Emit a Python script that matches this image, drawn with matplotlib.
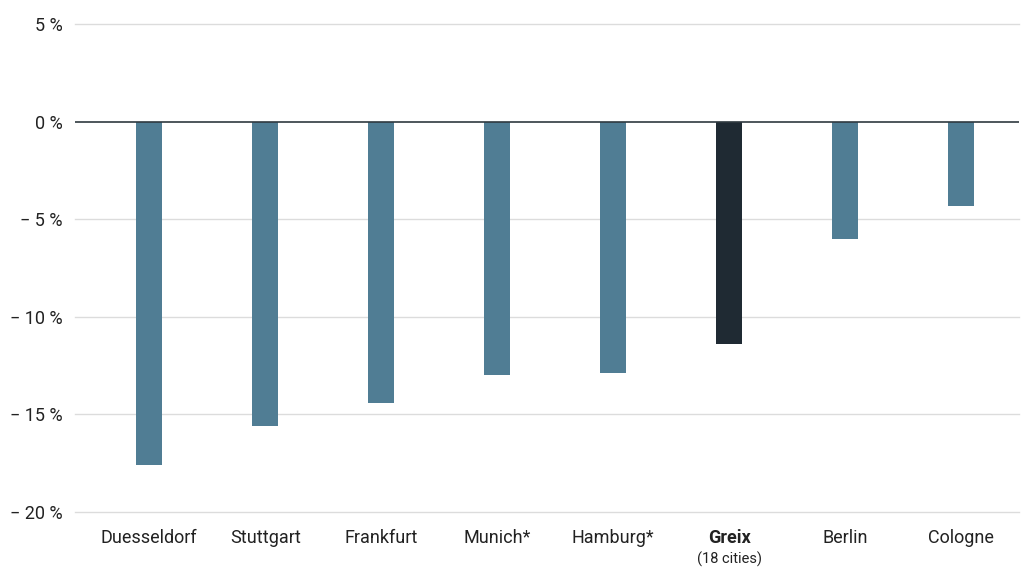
import matplotlib
matplotlib.use("Agg")
import matplotlib.pyplot as plt
from matplotlib.transforms import blended_transform_factory

plt.rcParams['font.family'] = ['Roboto', 'DejaVu Sans']

cities = ["Duesseldorf", "Stuttgart", "Frankfurt", "Munich*", "Hamburg*", "Greix", "Berlin", "Cologne"]
values = [-17.6, -15.6, -14.4, -13.0, -12.9, -11.4, -6.0, -4.3]
highlight = "Greix"
yticks = [5, 0, -5, -10, -15, -20]

bar_color = "#507d94"
hl_color = "#1f2a33"
text_color = "#222222"

fig = plt.figure(figsize=(10.23, 5.68), dpi=100)
ax = fig.add_axes([75/1023, 1-512/568, (1019-75)/1023, (512-24)/568])

x = list(range(len(cities)))
colors = [hl_color if c == highlight else bar_color for c in cities]
ax.bar(x, values, width=0.225, color=colors, zorder=3)

ax.set_ylim(-20, 5)
ax.set_xlim(-0.64, 7.498)
ax.set_yticks(yticks)
ax.set_yticklabels([("\u2212 " if v < 0 else "") + f"{abs(v)} %" for v in yticks])
for v in yticks:
    if v != 0:
        ax.axhline(v, color='#dcdcdc', linewidth=1, zorder=0, clip_on=False)
ax.axhline(0, color='#2f3940', linewidth=1.2, zorder=4)
for s in ax.spines.values():
    s.set_visible(False)
ax.tick_params(axis='y', length=0, pad=9, labelsize=13, labelcolor=text_color)
ax.tick_params(axis='x', length=0, pad=12, labelsize=13, labelcolor=text_color)
ax.set_xticks(x)
ax.set_xticklabels(cities)
for lbl in ax.get_xticklabels():
    if lbl.get_text() == highlight:
        lbl.set_fontweight('bold')

trans = blended_transform_factory(ax.transData, fig.transFigure)
ax.text(cities.index(highlight), 1 - 559/568, "(18 cities)", transform=trans,
        ha='center', va='center', fontsize=10.5, color=text_color)

fig.savefig("out.png", dpi=100)
